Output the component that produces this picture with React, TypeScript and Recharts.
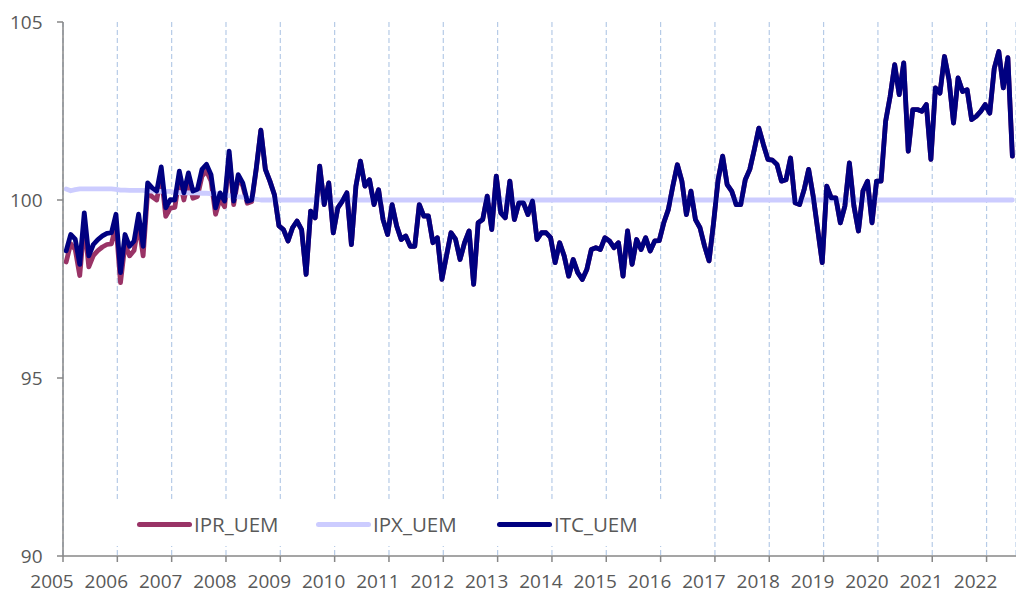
import React from 'react';
import { LineChart, Line, XAxis, YAxis, CartesianGrid, Legend } from 'recharts';

const yearLabels = ['2005', '2006', '2007', '2008', '2009', '2010', '2011', '2012', '2013', '2014', '2015', '2016', '2017', '2018', '2019', '2020', '2021', '2022'];
const yTicks = [90, 95, 100, 105];

const iprUem = [
  98.26, 98.77, 98.61, 97.88, 99.33, 98.12, 98.44, 98.58, 98.68, 98.75, 98.77, 99.3,
  97.68, 98.75, 98.43, 98.58, 99.33, 98.43, 100.22, 100.09, 100.0, 100.69, 99.54, 99.77,
  99.79, 100.6, 100.0, 100.56, 100.05, 100.1, 100.67, 100.81, 100.53, 99.6, 100.03, 99.81,
  101.25, 99.87, 100.62, 100.4, 99.91, 99.96, 100.88, 101.96, 100.86, 100.53, 100.15, 99.27,
  99.17, 98.85, 99.22, 99.41, 99.17, 97.91, 99.69, 99.5, 100.95, 99.87, 100.48, 99.08,
  99.78, 99.97, 100.2, 98.75, 100.39, 101.09, 100.39, 100.57, 99.87, 100.29, 99.45, 99.03,
  99.87, 99.27, 98.89, 98.99, 98.7, 98.7, 99.87, 99.55, 99.55, 98.8, 98.94, 97.77,
  98.43, 99.08, 98.9, 98.33, 98.8, 99.13, 97.63, 99.36, 99.45, 100.11, 99.17, 100.67,
  99.64, 99.5, 100.53, 99.45, 99.92, 99.92, 99.59, 99.97, 98.89, 99.08, 99.08, 98.94,
  98.24, 98.8, 98.43, 97.86, 98.33, 97.96, 97.77, 98.05, 98.61, 98.66, 98.61, 98.94,
  98.85, 98.66, 98.8, 97.86, 99.13, 98.19, 98.89, 98.61, 98.94, 98.57, 98.85, 98.86,
  99.36, 99.73, 100.39, 100.99, 100.53, 99.59, 100.25, 99.45, 99.22, 98.71, 98.29, 99.36,
  100.57, 101.23, 100.43, 100.25, 99.87, 99.87, 100.57, 100.86, 101.42, 102.02, 101.56, 101.14,
  101.12, 101.0, 100.53, 100.57, 101.18, 99.92, 99.87, 100.29, 100.86, 100.11, 99.17, 98.24,
  100.39, 100.06, 100.06, 99.36, 99.83, 101.04, 99.83, 99.13, 100.25, 100.53, 99.36, 100.53,
  100.53, 102.21, 102.91, 103.8, 102.96, 103.85, 101.37, 102.54, 102.54, 102.49, 102.68, 101.14,
  103.15, 103.0, 104.03, 103.38, 102.16, 103.43, 103.05, 103.1, 102.26, 102.35, 102.49, 102.68,
  102.44, 103.7, 104.17, 103.15, 104.0, 101.23,
];

const ipxUem = [
  100.31, 100.26, 100.29, 100.31, 100.31, 100.31, 100.31, 100.31, 100.31, 100.31, 100.31, 100.3,
  100.28, 100.28, 100.27, 100.27, 100.27, 100.27, 100.26, 100.25, 100.25, 100.24, 100.24, 100.24,
  100.21, 100.21, 100.2, 100.2, 100.2, 100.2, 100.19, 100.19, 100.18, 100.18, 100.17, 100.16,
  100.12, 100.1, 100.09, 100.08, 100.06, 100.04, 100.02, 100.0, 100.0, 100.0, 100.0, 100.0,
  100, 100, 100, 100, 100, 100, 100, 100, 100, 100, 100, 100,
  100, 100, 100, 100, 100, 100, 100, 100, 100, 100, 100, 100,
  100, 100, 100, 100, 100, 100, 100, 100, 100, 100, 100, 100,
  100, 100, 100, 100, 100, 100, 100, 100, 100, 100, 100, 100,
  100, 100, 100, 100, 100, 100, 100, 100, 100, 100, 100, 100,
  100, 100, 100, 100, 100, 100, 100, 100, 100, 100, 100, 100,
  100, 100, 100, 100, 100, 100, 100, 100, 100, 100, 100, 100,
  100, 100, 100, 100, 100, 100, 100, 100, 100, 100, 100, 100,
  100, 100, 100, 100, 100, 100, 100, 100, 100, 100, 100, 100,
  100, 100, 100, 100, 100, 100, 100, 100, 100, 100, 100, 100,
  100, 100, 100, 100, 100, 100, 100, 100, 100, 100, 100, 100,
  100, 100, 100, 100, 100, 100, 100, 100, 100, 100, 100, 100,
  100, 100, 100, 100, 100, 100, 100, 100, 100, 100, 100, 100,
  100, 100, 100, 100, 100, 100,
];

const itcUem = [
  98.57, 99.03, 98.9, 98.19, 99.64, 98.43, 98.75, 98.89, 98.99, 99.06, 99.08, 99.6,
  97.96, 99.03, 98.7, 98.85, 99.6, 98.7, 100.48, 100.34, 100.25, 100.93, 99.78, 100.01,
  100.0, 100.81, 100.2, 100.76, 100.25, 100.3, 100.86, 101.0, 100.71, 99.78, 100.2, 99.97,
  101.37, 99.97, 100.71, 100.48, 99.97, 100.0, 100.9, 101.96, 100.86, 100.53, 100.15, 99.27,
  99.17, 98.85, 99.22, 99.41, 99.17, 97.91, 99.69, 99.5, 100.95, 99.87, 100.48, 99.08,
  99.78, 99.97, 100.2, 98.75, 100.39, 101.09, 100.39, 100.57, 99.87, 100.29, 99.45, 99.03,
  99.87, 99.27, 98.89, 98.99, 98.7, 98.7, 99.87, 99.55, 99.55, 98.8, 98.94, 97.77,
  98.43, 99.08, 98.9, 98.33, 98.8, 99.13, 97.63, 99.36, 99.45, 100.11, 99.17, 100.67,
  99.64, 99.5, 100.53, 99.45, 99.92, 99.92, 99.59, 99.97, 98.89, 99.08, 99.08, 98.94,
  98.24, 98.8, 98.43, 97.86, 98.33, 97.96, 97.77, 98.05, 98.61, 98.66, 98.61, 98.94,
  98.85, 98.66, 98.8, 97.86, 99.13, 98.19, 98.89, 98.61, 98.94, 98.57, 98.85, 98.86,
  99.36, 99.73, 100.39, 100.99, 100.53, 99.59, 100.25, 99.45, 99.22, 98.71, 98.29, 99.36,
  100.57, 101.23, 100.43, 100.25, 99.87, 99.87, 100.57, 100.86, 101.42, 102.02, 101.56, 101.14,
  101.12, 101.0, 100.53, 100.57, 101.18, 99.92, 99.87, 100.29, 100.86, 100.11, 99.17, 98.24,
  100.39, 100.06, 100.06, 99.36, 99.83, 101.04, 99.83, 99.13, 100.25, 100.53, 99.36, 100.53,
  100.53, 102.21, 102.91, 103.8, 102.96, 103.85, 101.37, 102.54, 102.54, 102.49, 102.68, 101.14,
  103.15, 103.0, 104.03, 103.38, 102.16, 103.43, 103.05, 103.1, 102.26, 102.35, 102.49, 102.68,
  102.44, 103.7, 104.17, 103.15, 104.0, 101.23,
];

const data = itcUem.map((v, i) => ({
  x: i + 0.7,
  IPR_UEM: iprUem[i],
  IPX_UEM: ipxUem[i],
  ITC_UEM: v,
}));
const xTicks = yearLabels.map((_, i) => i * 12);

const FONT = '"Open Sans", sans-serif';
const TEXT = '#595959';
const AXIS = '#878787';

const XTick = (props: any) => {
  const { x, y, payload } = props;
  const label = yearLabels[Math.round(payload.value / 12)];
  return (
    <text x={x - 11} y={y + 24} textAnchor="middle" fill={TEXT} fontSize={19} fontFamily={FONT}>
      {label}
    </text>
  );
};

const YTick = (props: any) => {
  const { x, y, payload } = props;
  return (
    <text x={x - 12.5} y={y} dy="0.36em" textAnchor="end" fill={TEXT} fontSize={19} fontFamily={FONT}>
      {payload.value}
    </text>
  );
};

const legendOffsets = [25, 204, 385];

const renderLegend = (props: any) => {
  const payload = props.payload || [];
  return (
    <div style={{ position: 'relative', width: 562, height: 44 }}>
      {payload.map((e: any, i: number) => (
        <div
          key={e.value}
          style={{ position: 'absolute', left: legendOffsets[i], top: 0, height: 44, display: 'flex', alignItems: 'center' }}
        >
          <span style={{ display: 'inline-block', width: 55, height: 5, borderRadius: 2.5, background: e.color }} />
          <span style={{ marginLeft: 2, fontFamily: FONT, fontSize: 20.5, color: TEXT, lineHeight: '44px' }}>{e.value}</span>
        </div>
      ))}
    </div>
  );
};

export default function App() {
  return (
    <div style={{ position: 'absolute', left: 0, top: 0, width: 1016, height: 594, background: '#fff' }}>
      <LineChart width={1016} height={594} data={data} margin={{ top: 22, right: 0, bottom: 0, left: 0 }}>
        <CartesianGrid horizontal={false} stroke="#B6CBE7" strokeWidth={1.2} strokeDasharray="5 3" />
        <XAxis
          dataKey="x"
          type="number"
          domain={[0, 210.5]}
          ticks={xTicks}
          interval={0}
          allowDataOverflow
          height={38}
          tickSize={6}
          tick={<XTick />}
          axisLine={{ stroke: AXIS, strokeWidth: 1.5 }}
          tickLine={{ stroke: AXIS, strokeWidth: 1.5 }}
        />
        <YAxis
          type="number"
          domain={[90, 105]}
          ticks={yTicks}
          interval={0}
          width={63}
          tickSize={6}
          tick={<YTick />}
          axisLine={{ stroke: AXIS, strokeWidth: 1.5 }}
          tickLine={{ stroke: AXIS, strokeWidth: 1.5 }}
        />
        <Legend
          layout="horizontal"
          verticalAlign="middle"
          align="center"
          wrapperStyle={{ position: 'absolute', left: 112, top: 502, width: 562, height: 44, background: '#fff' }}
          content={renderLegend}
        />
        <Line name="IPR_UEM" dataKey="IPR_UEM" stroke="#993366" strokeWidth={4.8} dot={false} isAnimationActive={false} strokeLinejoin="round" strokeLinecap="round" />
        <Line name="IPX_UEM" dataKey="IPX_UEM" stroke="#CCCCFF" strokeWidth={4.8} dot={false} isAnimationActive={false} strokeLinejoin="round" strokeLinecap="round" />
        <Line name="ITC_UEM" dataKey="ITC_UEM" stroke="#000080" strokeWidth={4.8} dot={false} isAnimationActive={false} strokeLinejoin="round" strokeLinecap="round" />
      </LineChart>
    </div>
  );
}
